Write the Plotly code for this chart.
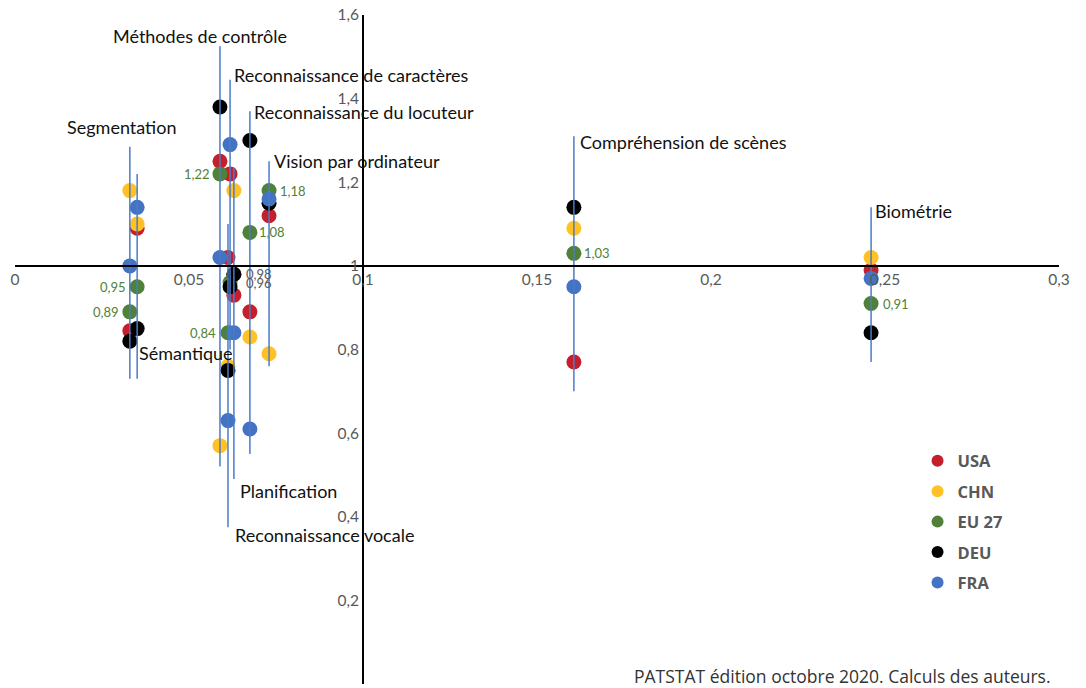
import plotly.graph_objects as go

# ---------------- data ----------------
categories = ["Segmentation", "Sémantique", "Méthodes de contrôle",
              "Reconnaissance de caractères", "Reconnaissance vocale",
              "Planification", "Reconnaissance du locuteur",
              "Vision par ordinateur", "Compréhension de scènes", "Biométrie"]
x_values = [0.0330, 0.0351, 0.0589, 0.0618, 0.0612, 0.0629, 0.0675, 0.0730, 0.1606, 0.2460]

usa = [0.845, 1.09, 1.25, 1.22, 1.02, 0.93, 0.89, 1.12, 0.77, 0.99]
chn = [1.18, 1.10, 0.57, 0.84, 0.76, 1.18, 0.83, 0.79, 1.09, 1.02]
eu27 = [0.89, 0.95, 1.22, 0.96, 0.84, 0.98, 1.08, 1.18, 1.03, 0.91]
deu = [0.82, 0.85, 1.38, 0.95, 0.75, 0.98, 1.30, 1.15, 1.14, 0.84]
fra = [1.00, 1.14, 1.02, 1.29, 0.63, 0.84, 0.61, 1.16, 0.95, 0.97]

line_low = [0.73, 0.73, 0.52, 0.80, 0.375, 0.49, 0.55, 0.76, 0.70, 0.77]
line_high = [1.285, 1.22, 1.525, 1.445, 1.10, 1.235, 1.37, 1.25, 1.31, 1.14]

series_names = ["USA", "CHN", "EU 27", "DEU", "FRA"]
series_values = [usa, chn, eu27, deu, fra]

x_ticks = [0, 0.05, 0.1, 0.15, 0.2, 0.25, 0.3]
y_ticks = [0, 0.2, 0.4, 0.6, 0.8, 1.0, 1.2, 1.4, 1.6]

source_text = "PATSTAT édition octobre 2020. Calculs des auteurs."

# ---------------- styles ----------------
colors = {"USA": "#C3202B", "CHN": "#FFC125", "EU 27": "#508139",
          "DEU": "#000000", "FRA": "#4473C3"}
FONT = "Lato, 'Liberation Sans', sans-serif"
TICK_COLOR = "#595959"

# label placement for category names: (end of line, xanchor, xshift, yshift)
cat_label_style = {
    "Segmentation": ("high", "center", -8, 20),
    "Sémantique": ("low", "left", 0, 26),
    "Méthodes de contrôle": ("high", "center", -20, 10),
    "Reconnaissance de caractères": ("high", "left", 2, 5),
    "Reconnaissance vocale": ("low", "left", 5, -8),
    "Planification": ("low", "left", 4, -12),
    "Reconnaissance du locuteur": ("high", "left", 2, -1),
    "Vision par ordinateur": ("high", "left", 3, 0),
    "Compréhension de scènes": ("high", "left", 4, -6),
    "Biométrie": ("high", "left", 2, -4),
}
# EU 27 value label placement: (xanchor, xshift, colour)
GREEN_LBL = "#508139"
eu_label_style = {
    "Segmentation": ("right", -9, GREEN_LBL),
    "Sémantique": ("right", -9, GREEN_LBL),
    "Méthodes de contrôle": ("right", -8, GREEN_LBL),
    "Reconnaissance de caractères": ("left", 14, TICK_COLOR),
    "Reconnaissance vocale": ("right", -10, GREEN_LBL),
    "Planification": ("left", 10, TICK_COLOR),
    "Reconnaissance du locuteur": ("left", 7, GREEN_LBL),
    "Vision par ordinateur": ("left", 9, GREEN_LBL),
    "Compréhension de scènes": ("left", 8, GREEN_LBL),
    "Biométrie": ("left", 10, GREEN_LBL),
}

fig = go.Figure()

for i, (name, vals) in enumerate(zip(series_names, series_values)):
    fig.add_trace(go.Scatter(
        x=x_values, y=vals, mode="markers", name=name,
        marker=dict(size=15, color=colors[name], line=dict(width=0)),
        legendgroup=name, cliponaxis=False,
    ))

# vertical range lines (drawn over markers)
lx, ly = [], []
for xv, lo, hi in zip(x_values, line_low, line_high):
    lx += [xv, xv, None]
    ly += [lo, hi, None]
fig.add_trace(go.Scatter(x=lx, y=ly, mode="lines", showlegend=False,
                         line=dict(color="#4A7BC8", width=1.5), hoverinfo="skip"))

annotations = []
for cat, xv, lo, hi in zip(categories, x_values, line_low, line_high):
    end, xa, xs, ys = cat_label_style[cat]
    annotations.append(dict(
        x=xv, y=hi if end == "high" else lo, xref="x", yref="y",
        text=cat, showarrow=False, xanchor=xa, yanchor="middle",
        xshift=xs, yshift=ys, font=dict(family=FONT, size=18, color="#111111")))

for cat, xv, v in zip(categories, x_values, eu27):
    xa, xs, col = eu_label_style[cat]
    annotations.append(dict(
        x=xv, y=v, xref="x", yref="y", text=f"{v:.2f}".replace(".", ","),
        showarrow=False, xanchor=xa, yanchor="middle", xshift=xs,
        font=dict(family=FONT, size=13, color=col)))

annotations.append(dict(
    x=0.994, y=0.012, xref="paper", yref="paper", text=source_text,
    showarrow=False, xanchor="right", yanchor="middle",
    font=dict(family="'Open Sans', sans-serif", size=17.5, color="#333333")))

fig.update_layout(
    width=1086, height=688,
    margin=dict(l=15, r=27, t=15, b=4),
    paper_bgcolor="white", plot_bgcolor="white",
    separators=", ",
    showlegend=True,
    legend=dict(x=0.8645, y=0.3595, xanchor="left", yanchor="top",
                font=dict(family="'Open Sans', sans-serif", size=16.5, color="#595959", weight="bold"),
                tracegroupgap=6, bgcolor="rgba(0,0,0,0)", itemsizing="constant"),
    annotations=annotations,
    xaxis=dict(range=[0, 0.3], tickvals=x_ticks, showgrid=False, zeroline=False,
               showline=True, linecolor="#000000", linewidth=2,
               anchor="free", position=1.0 / 1.6, ticks="", automargin=False,
               tickfont=dict(family=FONT, size=15.5, color=TICK_COLOR)),
    yaxis=dict(range=[0, 1.6], tickvals=y_ticks, showgrid=False, zeroline=False,
               showline=True, linecolor="#000000", linewidth=2,
               anchor="free", position=0.1 / 0.3, ticks="", automargin=False,
               tickfont=dict(family=FONT, size=15.5, color=TICK_COLOR)),
)

fig.write_html("out.html", config={"displayModeBar": False},
               post_script="document.body.style.margin='0';document.body.style.overflow='hidden';")
